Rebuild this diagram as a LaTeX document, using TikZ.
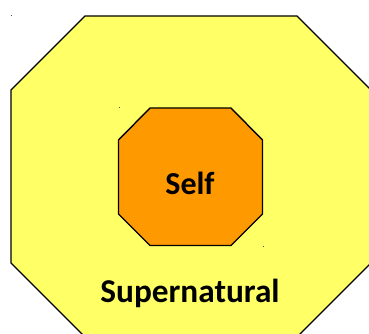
\documentclass[tikz,border=0pt]{standalone}
\usepackage{fontspec}
\setmainfont{Carlito}
\definecolor{outery}{HTML}{FFFF66}
\definecolor{innero}{HTML}{FF9900}
\tikzset{
  octo/.style={draw=black, line width=1.4pt, line join=miter},
  lbl/.style={font=\fontsize{32}{36}\selectfont\bfseries, inner sep=0pt, anchor=base, text=black},
  speck/.style={fill=black!70}
}
\begin{document}
\begin{tikzpicture}[x=1pt,y=-1pt]
\useasboundingbox (0,0) rectangle (369,334);
\clip (0,0) rectangle (369,334);
\fill[white] (0,0) rectangle (369,334);
% outer octagon
\path[octo, fill=outery] (85,16) -- (297,16) -- (371,90) -- (371,263) -- (297,337) -- (85,337) -- (11,263) -- (11,90) -- cycle;
% inner octagon
\path[octo, fill=innero] (150,108) -- (231,108) -- (262.5,140) -- (262.5,214) -- (231,245.5) -- (150,245.5) -- (118.5,214) -- (118.5,140) -- cycle;
% tiny specks
\fill[speck] (11,15.5) rectangle (12,16.5);
\fill[speck] (119,107.5) rectangle (120,108.5);
\fill[speck] (263,245.5) rectangle (264,246.5);
% labels
\node[lbl] (self) at (190,194) {Self};
\node[lbl, font=\fontsize{33.3}{37}\selectfont\bfseries] (super) at (190,302) {Supernatural};
\end{tikzpicture}
\end{document}
